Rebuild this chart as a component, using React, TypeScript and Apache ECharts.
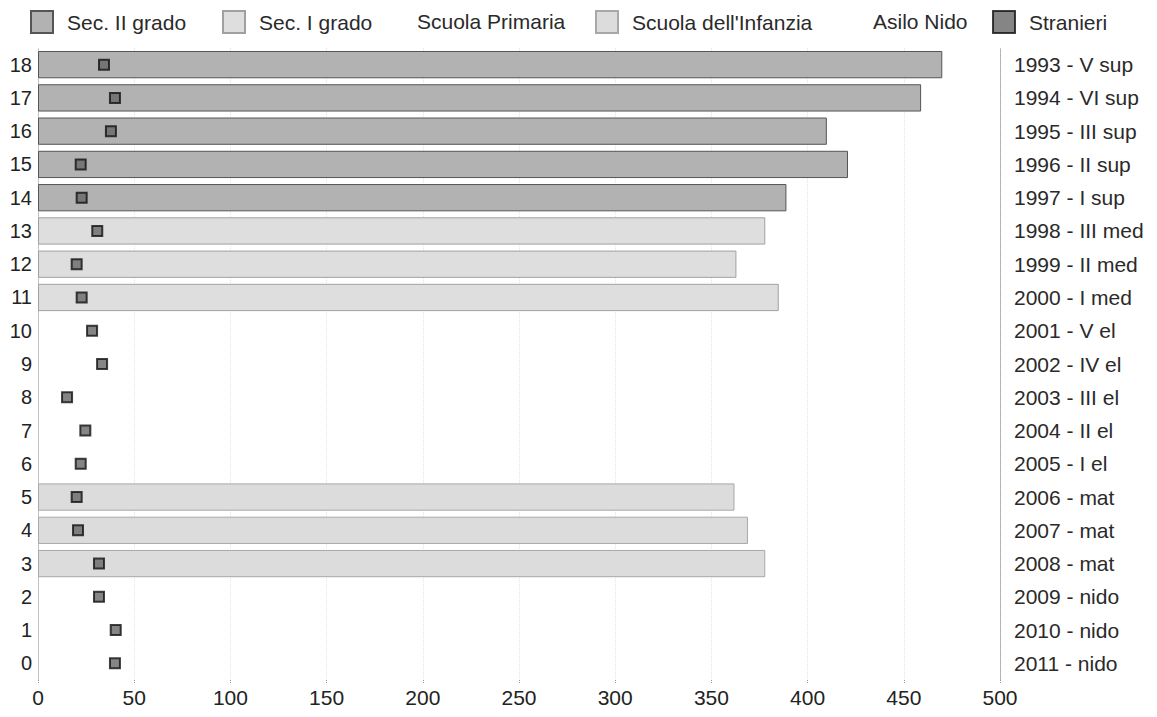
import React, { useEffect, useRef } from "react";
import * as echarts from "echarts";

const categories = ["0","1","2","3","4","5","6","7","8","9","10","11","12","13","14","15","16","17","18"];
const rightLabels = [
  "2011 - nido","2010 - nido","2009 - nido","2008 - mat","2007 - mat","2006 - mat",
  "2005 - I el","2004 - II el","2003 - III el","2002 - IV el","2001 - V el",
  "2000 - I med","1999 - II med","1998 - III med",
  "1997 - I sup","1996 - II sup","1995 - III sup","1994 - VI sup","1993 - V sup",
];
const secII = [null,null,null,null,null,null,null,null,null,null,null,null,null,null,389,421,410,459,470];
const secI = [null,null,null,null,null,null,null,null,null,null,null,385,363,378,null,null,null,null,null];
const primaria = [null,null,null,null,null,null,null,null,null,null,null,null,null,null,null,null,null,null,null];
const infanzia = [null,null,null,378,369,362,null,null,null,null,null,null,null,null,null,null,null,null,null];
const nido = [null,null,null,null,null,null,null,null,null,null,null,null,null,null,null,null,null,null,null];
const stranieri = [40,40.4,31.7,31.7,20.8,20.1,22.2,24.6,15.1,33.3,28.1,22.7,20.1,30.8,22.7,22.2,37.9,40,34.3];
const xTicks = [0, 50, 100, 150, 200, 250, 300, 350, 400, 450, 500];

const FONT = "Liberation Sans";

export default function App() {
  const ref = useRef<HTMLDivElement>(null);
  useEffect(() => {
    if (!ref.current) return;
    const chart = echarts.init(ref.current, null, { renderer: "svg" });
    const legendBase = {
      top: 10,
      icon: "rect",
      itemWidth: 22,
      itemHeight: 22,
      itemGap: 10,
      padding: 0,
      textStyle: { fontFamily: FONT, fontSize: 21, color: "#2a2a2a", padding: [0, 0, 0, 9] },
    };
    const barBase = {
      type: "bar",
      stack: "s",
      barCategoryGap: "18%",
    };
    chart.setOption({
      animation: false,
      backgroundColor: "#ffffff",
      textStyle: { fontFamily: FONT },
      legend: [
        { ...legendBase, left: 30, data: ["Sec. II grado"] },
        { ...legendBase, left: 222, data: ["Sec. I grado"] },
        { ...legendBase, left: 381, data: ["Scuola Primaria"] },
        { ...legendBase, left: 595, data: ["Scuola dell'Infanzia"] },
        { ...legendBase, left: 837, data: ["Asilo Nido"] },
        { ...legendBase, left: 992, data: ["Stranieri"] },
      ],
      grid: { left: 38, right: 157, top: 48, bottom: 37, containLabel: false },
      xAxis: {
        type: "value",
        min: 0,
        max: 500,
        interval: 50,
        axisLine: { show: false },
        axisTick: { show: true, length: 4, lineStyle: { color: "#999", type: "dotted" } },
        axisLabel: {
          fontFamily: FONT,
          fontSize: 21,
          color: "#222",
          margin: 7,
          formatter: (v: number) => (xTicks.includes(v) ? String(v) : ""),
        },
        splitLine: { show: true, lineStyle: { color: "#e4e4e4", type: "dotted", width: 1 } },
      },
      yAxis: [
        {
          type: "category",
          data: categories,
          position: "left",
          axisLine: { show: true, lineStyle: { color: "#bbb", type: "dotted" } },
          axisTick: { show: false },
          axisLabel: { fontFamily: FONT, fontSize: 20, color: "#222", margin: 6 },
          splitLine: { show: false },
        },
        {
          type: "category",
          data: rightLabels,
          position: "right",
          axisLine: { show: true, lineStyle: { color: "#aaa", type: "dotted" } },
          axisTick: { show: false },
          axisLabel: { fontFamily: FONT, fontSize: 21, color: "#2a2a2a", margin: 14 },
          splitLine: { show: false },
        },
      ],
      series: [
        {
          ...barBase,
          name: "Sec. II grado",
          data: secII,
          itemStyle: { color: "#b2b2b2", borderColor: "#555", borderWidth: 1 },
        },
        {
          ...barBase,
          name: "Sec. I grado",
          data: secI,
          itemStyle: { color: "#dedede", borderColor: "#a0a0a0", borderWidth: 1 },
        },
        {
          ...barBase,
          name: "Scuola Primaria",
          data: primaria,
          itemStyle: { color: "#ffffff", borderColor: "#ffffff", borderWidth: 0 },
        },
        {
          ...barBase,
          name: "Scuola dell'Infanzia",
          data: infanzia,
          itemStyle: { color: "#dcdcdc", borderColor: "#a8a8a8", borderWidth: 1 },
        },
        {
          ...barBase,
          name: "Asilo Nido",
          data: nido,
          itemStyle: { color: "#ffffff", borderColor: "#ffffff", borderWidth: 0 },
        },
        {
          type: "scatter",
          name: "Stranieri",
          data: stranieri.map((v, i) => [v, i]),
          symbol: "rect",
          symbolSize: 10,
          z: 5,
          itemStyle: { color: "#666", borderColor: "#111", borderWidth: 2 },
        },
      ],
    });
    return () => chart.dispose();
  }, []);
  return <div ref={ref} style={{ width: 1157, height: 717, margin: -8 }} />;
}
